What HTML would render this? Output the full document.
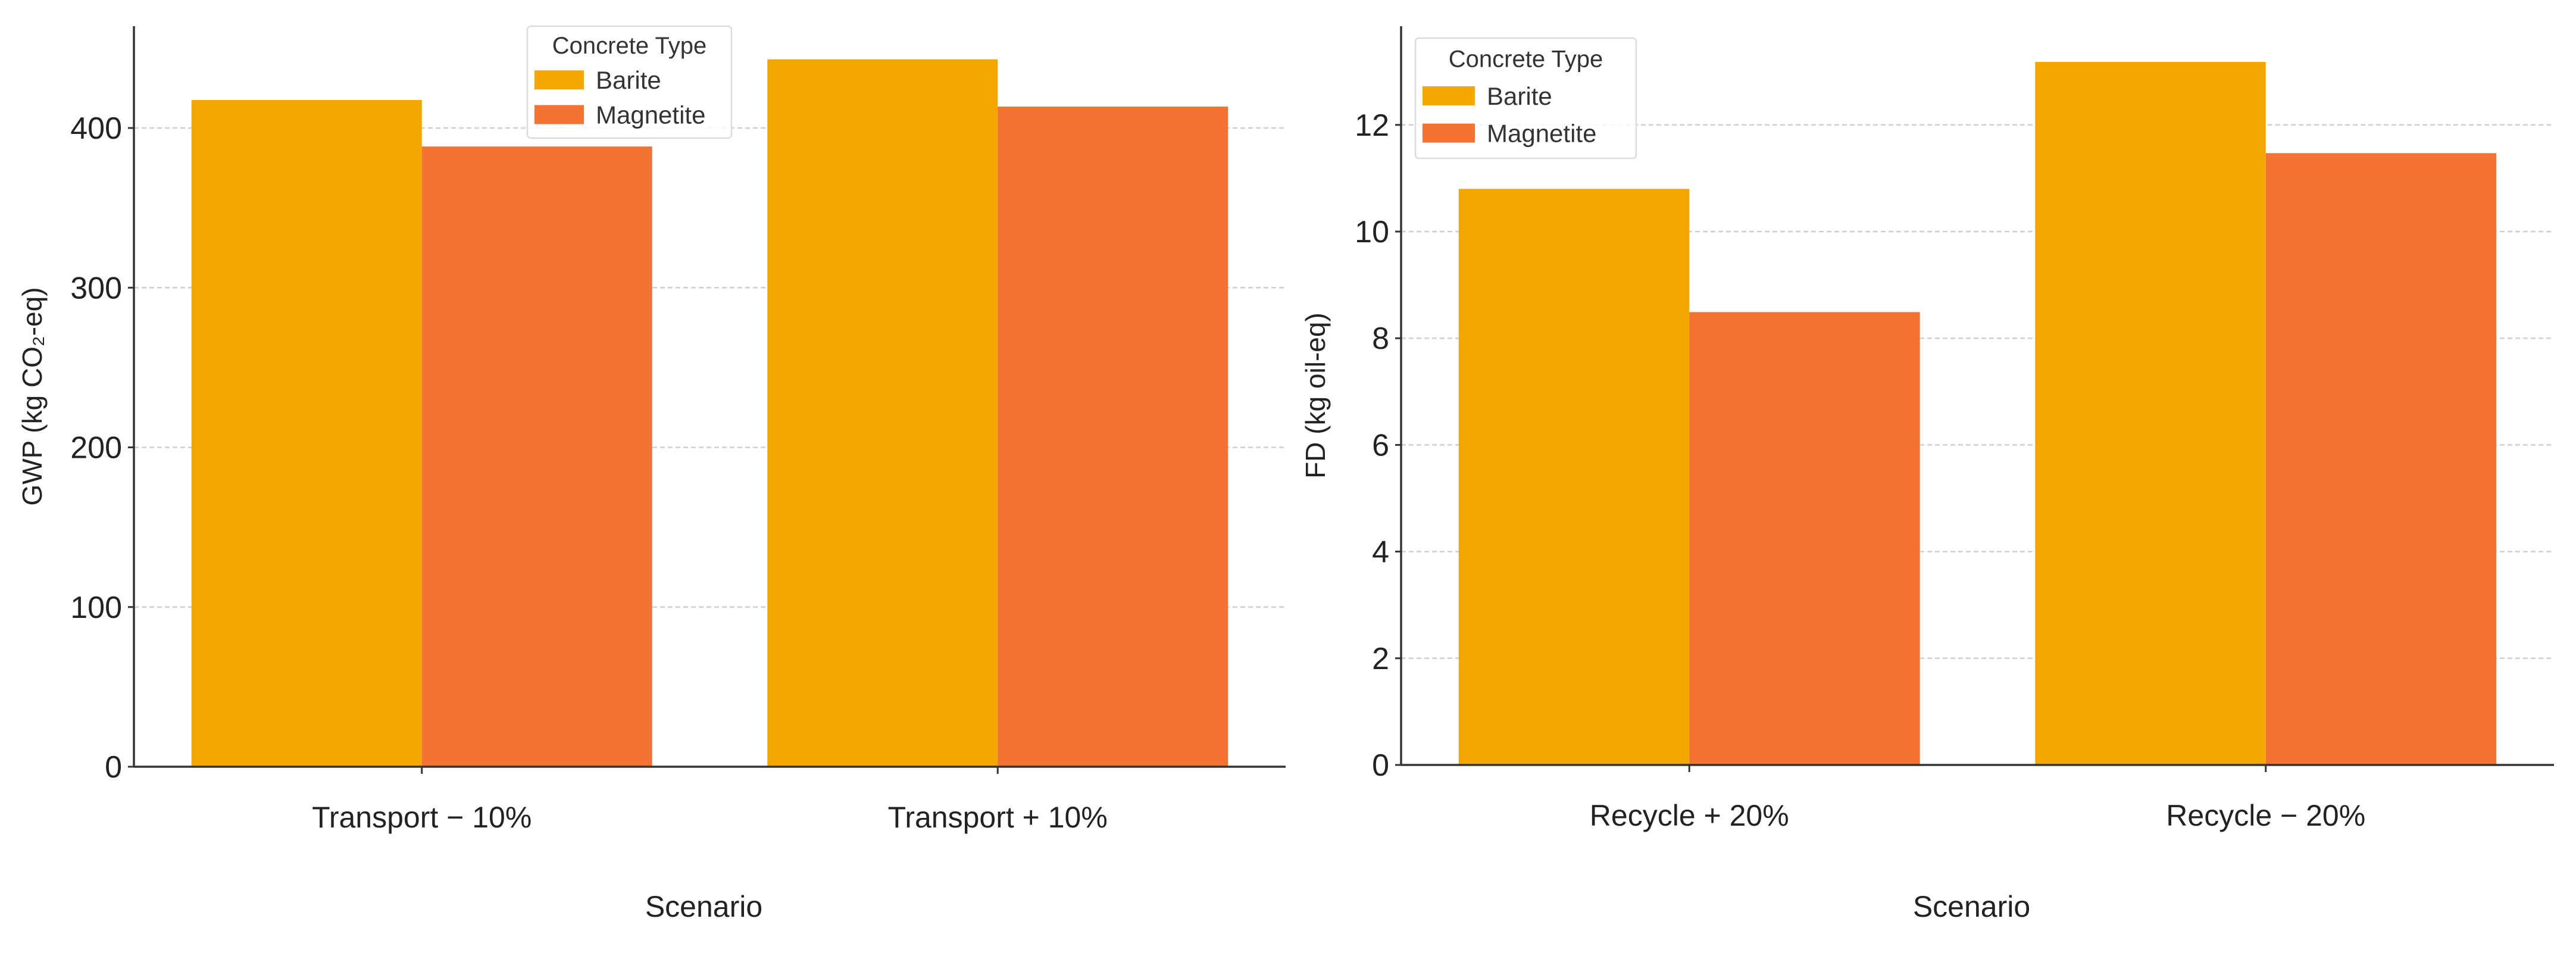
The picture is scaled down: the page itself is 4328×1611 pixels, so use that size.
<!DOCTYPE html>
<html><head><meta charset="utf-8"><style>
html,body{margin:0;padding:0;background:#fff;}
svg{display:block;font-family:"Liberation Sans","DejaVu Sans",sans-serif;}
</style></head><body>
<svg id="chart" width="4328" height="1611" viewBox="0 0 4328 1611" xmlns="http://www.w3.org/2000/svg"></svg>
<script>
const leftCategories = ["Transport \u2212 10%", "Transport + 10%"];
const leftBarite = [417.5, 443];
const leftMagnetite = [388.4, 413.4];
const leftTicks = [0, 100, 200, 300, 400];
const rightCategories = ["Recycle + 20%", "Recycle \u2212 20%"];
const rightBarite = [10.8, 13.18];
const rightMagnetite = [8.49, 11.47];
const rightTicks = [0, 2, 4, 6, 8, 10, 12];
const seriesNames = ["Barite", "Magnetite"];
const seriesColors = ["#f2a600", "#f47234"];

const svg = document.getElementById('chart');
const NS = "http://www.w3.org/2000/svg";
function mk(tag, attrs, parent){const e=document.createElementNS(NS,tag);for(const k in attrs)e.setAttribute(k,attrs[k]);(parent||svg).appendChild(e);return e;}

function panel(cfg){
  const g = mk('g',{});
  
  
  const x0=cfg.left, x1=cfg.right, yb=cfg.base, yt=cfg.top;
  const ys = v => yb - (v/cfg.ymax)*(yb-yt);
  const xs = u => x0 + (u+0.5)/2*(x1-x0);
  const unit = (x1-x0)/2;
  cfg.ticks.forEach(t=>{
    if(t>0){
      const l=mk('line',{x1:x0,x2:x1,y1:ys(t),y2:ys(t),stroke:'#cfcfcf','stroke-width':2.5,'stroke-dasharray':'8,5'},g);
      
      
    }
    const tl=mk('text',{x:x0-20,y:ys(t)+18,'text-anchor':'end','font-size':52,fill:'#222'},g);
    tl.textContent=t;
    
    
    const tk=mk('line',{x1:x0-10,x2:x0,y1:ys(t),y2:ys(t),stroke:'#333','stroke-width':3},g);
    
    
  });
  [cfg.s1,cfg.s2].forEach((arr,si)=>{
    arr.forEach((v,i)=>{
      const bx = xs(i) + (si===0 ? -0.4 : 0)*unit;
      const r=mk('rect',{x:bx,y:ys(v),width:0.4*unit,height:yb-ys(v),fill:seriesColors[si]},g);
      
      
    });
  });
  const ax=mk('line',{x1:x0,x2:x0,y1:yt,y2:yb,stroke:'#333','stroke-width':3.5},g);
  
  
  const bx=mk('line',{x1:x0,x2:x1,y1:yb,y2:yb,stroke:'#333','stroke-width':3.5},g);
  
  
  cfg.cats.forEach((c,i)=>{
    const tk=mk('line',{x1:xs(i),x2:xs(i),y1:yb,y2:yb+12,stroke:'#333','stroke-width':3},g);
    
    
    const t=mk('text',{x:xs(i),y:yb+102,'text-anchor':'middle','font-size':50,fill:'#222'},g);
    t.textContent=c;
    
    
  });
  const xt=mk('text',{x:(x0+x1)/2-10,y:1540,'text-anchor':'middle','font-size':50,fill:'#222'},g);
  xt.textContent='Scenario';
  
  
  const yty=(yt+yb)/2;
  const yttl=mk('text',{x:cfg.ytx,y:yty,'text-anchor':'middle','font-size':46,fill:'#222',transform:`rotate(-90 ${cfg.ytx} ${yty})`},g);
  yttl.textContent=cfg.ytitle;
  
  
  const lg=mk('g',{},g);
  
  
  const L=cfg.leg;
  mk('rect',{x:L.x,y:L.y,width:L.w,height:L.h,rx:6,fill:'#fff','fill-opacity':0.85,stroke:'#dcdcdc','stroke-width':2.5},lg);
  const lt=mk('text',{x:L.x+L.w/2,y:L.y+L.h*0.17+14,'text-anchor':'middle','font-size':40,fill:'#333'},lg);
  lt.textContent='Concrete Type';
  
  
  seriesNames.forEach((n,i)=>{
    const ey=L.y+L.h*0.48+i*L.h*0.31-16;
    const sw=mk('rect',{x:L.x+12,y:ey,width:L.sw,height:32,fill:seriesColors[i]},lg);
    
    
    const tx=mk('text',{x:L.x+L.sw+32,y:ey+31,'font-size':42,fill:'#333'},lg);
    tx.textContent=n;
    
    
  });
}
panel({name:'gwp-chart',left:225,right:2160,base:1288,top:44,ymax:(1288-44)/268.25*100,ticks:leftTicks,
  cats:leftCategories,s1:leftBarite,s2:leftMagnetite,ytx:70,ytitle:'GWP (kg CO\u2082-eq)',
  leg:{x:886,y:44,w:343,h:188,sw:83}});
panel({name:'fd-chart',left:2354,right:4291,base:1285,top:44,ymax:(1285-44)/89.6,ticks:rightTicks,
  cats:rightCategories,s1:rightBarite,s2:rightMagnetite,ytx:2226,ytitle:'FD (kg oil-eq)',
  leg:{x:2378,y:64,w:371,h:202,sw:88}});
</script>
</body></html>
